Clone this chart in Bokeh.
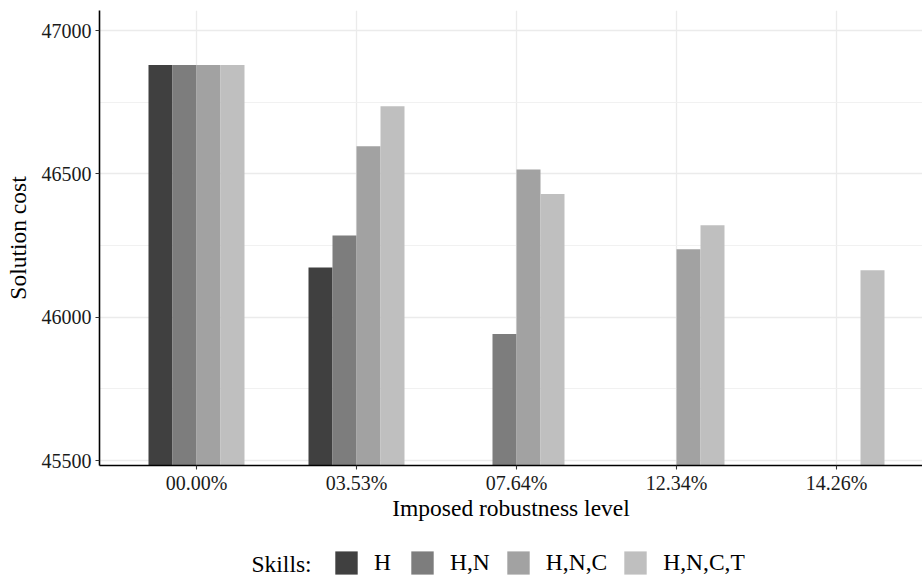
from bokeh.plotting import figure
from bokeh.layouts import column
from bokeh.models import (Range1d, FixedTicker, Legend, LegendItem, Label,
                          PrintfTickFormatter, ColumnDataSource)
from bokeh.transform import dodge
from bokeh.embed import file_html
from bokeh.resources import INLINE

nan = float("nan")

# ---- data ----
levels = ["00.00%", "03.53%", "07.64%", "12.34%", "14.26%"]
skills = ["H", "H,N", "H,N,C", "H,N,C,T"]
cost_H = [46880, 46173, nan, nan, nan]
cost_HN = [46880, 46285, 45941, nan, nan]
cost_HNC = [46880, 46596, 46515, 46237, nan]
cost_HNCT = [46880, 46736, 46430, 46321, 46164]
y_ticks = [45500, 46000, 46500, 47000]
y_minor = [45750, 46250, 46750]

colors = ["#404040", "#7D7D7D", "#A2A2A2", "#BFBFBF"]
FONT = "Liberation Serif"

xs = list(range(len(levels)))
src = ColumnDataSource(dict(x=xs, H=cost_H, HN=cost_HN, HNC=cost_HNC, HNCT=cost_HNCT))

W = 922
H_MAIN = 530
H_LEG = 53
FRAME_LEFT = 99

p = figure(width=W, height=H_MAIN, output_backend="svg", toolbar_location=None,
           x_range=Range1d(-0.60625, 4.5375), y_range=Range1d(45482.6, 47069.8),
           min_border_left=FRAME_LEFT, min_border_right=0, min_border_top=10,
           min_border_bottom=65)
p.outline_line_color = None
p.background_fill_color = "white"

bw = 0.15
offsets = [-0.225, -0.075, 0.075, 0.225]
cols = ["H", "HN", "HNC", "HNCT"]
for col, off, c in zip(cols, offsets, colors):
    p.vbar(x=dodge("x", off), top=col, bottom=0, width=bw, source=src,
           fill_color=c, line_color=None)

# axes
p.xaxis.ticker = FixedTicker(ticks=xs)
p.xaxis.major_label_overrides = {i: lab for i, lab in enumerate(levels)}
p.yaxis.ticker = FixedTicker(ticks=y_ticks, minor_ticks=y_minor)
p.yaxis.formatter = PrintfTickFormatter(format="%d")

for ax in (p.xaxis[0], p.yaxis[0]):
    ax.axis_line_color = "black"
    ax.axis_line_width = 1.6
    ax.major_tick_line_color = "#333333"
    ax.major_tick_line_width = 1.1
    ax.major_tick_out = 4
    ax.major_tick_in = 0
    ax.minor_tick_line_color = None
    ax.major_label_text_font = FONT
    ax.major_label_text_font_size = "20px"
    ax.major_label_text_color = "#1a1a1a"
    ax.axis_label_text_font = FONT
    ax.axis_label_text_font_size = "23.5px"
    ax.axis_label_text_font_style = "normal"
    ax.axis_label_text_color = "black"

p.xaxis.axis_label = "Imposed robustness level"
p.yaxis.axis_label = "Solution cost"
p.xaxis.major_label_standoff = 2
p.xaxis.axis_label_standoff = -2
p.yaxis.major_label_standoff = 4
p.yaxis.axis_label_standoff = 8

p.xgrid.grid_line_color = "#EBEBEB"
p.xgrid.grid_line_width = 1.3
p.ygrid.grid_line_color = "#EBEBEB"
p.ygrid.grid_line_width = 1.3
p.ygrid.minor_grid_line_color = "#EFEFEF"
p.ygrid.minor_grid_line_width = 0.9

# ---- legend strip (separate figure below the chart; its frame is aligned
#      with the chart's frame by the column layout) ----
lg = figure(width=W, height=H_LEG, output_backend="svg", toolbar_location=None,
            x_range=Range1d(FRAME_LEFT, W), y_range=Range1d(0, H_LEG),
            min_border_left=0, min_border_right=0, min_border_top=0,
            min_border_bottom=0)
lg.axis.visible = False
lg.grid.visible = False
lg.outline_line_color = None

# legend key carriers (a single missing value each: nothing is drawn)
carriers = [lg.vbar(x=[nan], top=[nan], width=1, fill_color=c, line_color=None)
            for c in colors]
items = [LegendItem(label=s, renderers=[r]) for s, r in zip(skills, carriers)]
legend = Legend(items=items, orientation="horizontal",
                location=(332 - FRAME_LEFT, 6),
                glyph_width=28, glyph_height=29, label_standoff=14, spacing=14,
                padding=0, margin=0, border_line_color=None,
                background_fill_alpha=0,
                label_text_font=FONT, label_text_font_size="23.5px",
                label_text_color="black")
lg.add_layout(legend)

lg.add_layout(Label(x=251, y=20, text="Skills:", text_font=FONT,
                    text_font_size="23.5px", text_color="black",
                    text_baseline="middle", text_align="left"))

layout = column(p, lg, spacing=0)
open("out.html", "w").write(file_html(layout, INLINE))
